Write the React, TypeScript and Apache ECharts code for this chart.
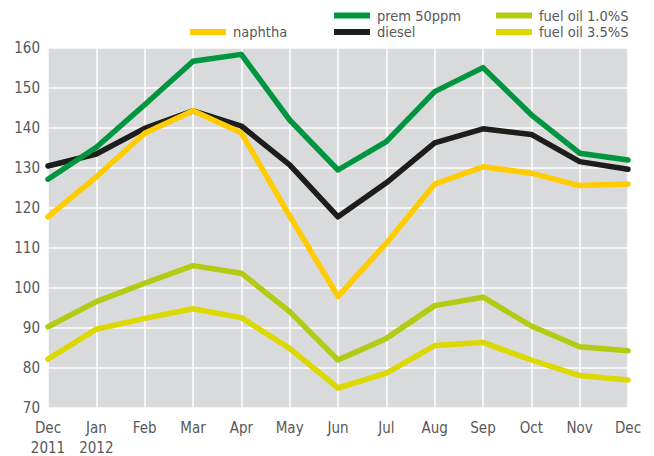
import React, { useEffect, useRef } from "react";
import * as echarts from "echarts";

const categories = ["Dec\n2011", "Jan\n2012", "Feb", "Mar", "Apr", "May", "Jun", "Jul", "Aug", "Sep", "Oct", "Nov", "Dec"];
const naphtha = [117.8, 127.8, 138.7, 144.3, 138.8, 118.0, 97.9, 111.2, 126.0, 130.3, 128.7, 125.6, 126.0];
const prem50ppm = [127.2, 135.2, 145.8, 156.7, 158.4, 142.0, 129.5, 136.6, 149.1, 155.1, 143.3, 133.7, 132.0];
const diesel = [130.5, 133.5, 139.9, 144.3, 140.5, 130.8, 117.8, 126.3, 136.3, 139.8, 138.4, 131.6, 129.7];
const fuelOil10 = [90.3, 96.6, 101.2, 105.6, 103.7, 94.1, 82.0, 87.4, 95.6, 97.7, 90.5, 85.3, 84.3];
const fuelOil35 = [82.2, 89.7, 92.4, 94.8, 92.6, 84.9, 75.0, 78.7, 85.6, 86.4, 82.0, 78.1, 77.0];

const FONT = "'DejaVu Sans Condensed', 'Liberation Sans Narrow', 'Roboto', sans-serif";
const TEXT = "#58585a";

export default function App() {
  const ref = useRef<HTMLDivElement>(null);
  useEffect(() => {
    if (!ref.current) return;
    const chart = echarts.init(ref.current, null, { renderer: "svg" });
    const mk = (name: string, data: number[], color: string) => ({
      name,
      type: "line",
      data,
      symbol: "none",
      lineStyle: { color, width: 5.5, cap: "round", join: "round" },
      itemStyle: { color },
    });
    const leg = (name: string, left: number, top: number) => ({
      data: [name],
      left,
      top,
      padding: 0,
      icon: "rect",
      itemWidth: 36,
      itemHeight: 6,
      textStyle: { color: TEXT, fontSize: 14.5, fontFamily: FONT, lineHeight: 15, padding: [0, 0, 0, 2] },
    });
    chart.setOption({
      animation: false,
      textStyle: { fontFamily: FONT },
      grid: {
        left: 48,
        right: 26,
        top: 48,
        bottom: 48,
        show: true,
        backgroundColor: "#d9dadb",
        borderWidth: 0,
        outerBoundsMode: "none",
        containLabel: false,
      },
      legend: [
        leg("naphtha", 190, 24.5),
        leg("prem 50ppm", 334, 8),
        leg("diesel", 334, 24.5),
        leg("fuel oil 1.0%S", 496, 8),
        leg("fuel oil 3.5%S", 496, 24.5),
      ],
      xAxis: {
        type: "category",
        data: categories,
        boundaryGap: false,
        axisLine: { show: false },
        axisTick: { show: false },
        splitLine: { show: true, lineStyle: { color: "#ffffff", width: 1.5 } },
        axisLabel: {
          color: TEXT,
          fontSize: 15,
          fontFamily: FONT,
          margin: 10,
          lineHeight: 20,
          interval: 0,
        },
      },
      yAxis: {
        type: "value",
        min: 70,
        max: 160,
        interval: 10,
        axisLine: { show: false },
        axisTick: { show: false },
        splitLine: { show: true, lineStyle: { color: "#ffffff", width: 1.5 } },
        axisLabel: { color: TEXT, fontSize: 15, fontFamily: FONT, margin: 8 },
      },
      series: [
        mk("diesel", diesel, "#1d1d1b"),
        mk("prem 50ppm", prem50ppm, "#009640"),
        mk("naphtha", naphtha, "#ffcc00"),
        mk("fuel oil 1.0%S", fuelOil10, "#b3cb12"),
        mk("fuel oil 3.5%S", fuelOil35, "#dcd900"),
      ],
    });
    return () => chart.dispose();
  }, []);
  return <div ref={ref} style={{ width: 654, height: 456, position: "absolute", left: 0, top: 0 }} />;
}
